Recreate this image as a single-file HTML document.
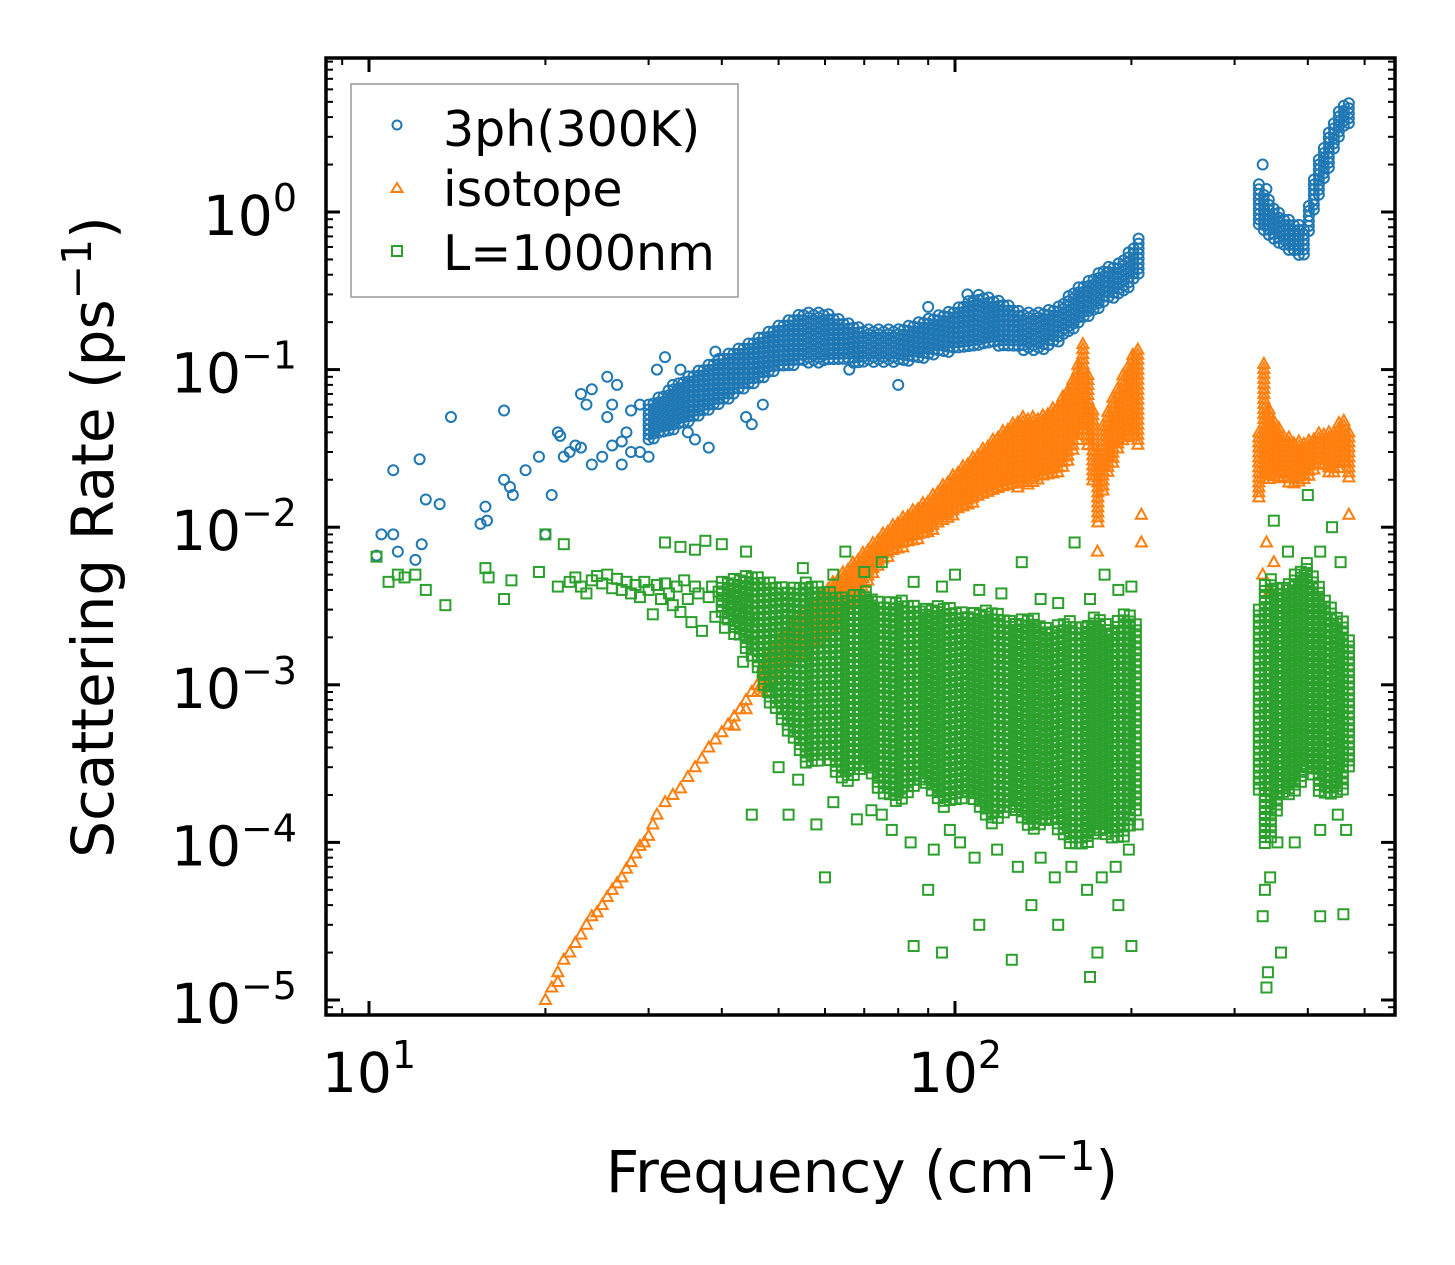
<!DOCTYPE html>
<html><head><meta charset="utf-8"><style>
html,body{margin:0;padding:0;background:#fff;}
svg{display:block;font-family:"DejaVu Sans","Liberation Sans",sans-serif;}
</style></head><body>
<svg id="chart" width="1455" height="1265" viewBox="0 0 1455 1265" xmlns="http://www.w3.org/2000/svg">
<defs><clipPath id="plotclip"><rect x="326" y="58" width="1069" height="957"/></clipPath></defs>
<rect width="1455" height="1265" fill="#fff"/>
<g id="marks" clip-path="url(#plotclip)"></g>
<g id="axes"></g>
<g>
<rect x="351" y="84" width="387" height="213" fill="#fff" fill-opacity="0.8" stroke="#999" stroke-width="1.5"/>
<circle cx="397" cy="125" r="4.5" fill="none" stroke="#1f77b4" stroke-width="2"/>
<text x="443" y="146" font-size="49">3ph(300K)</text>
<path d="M397,183 L402.5,192 L391.5,192 Z" fill="none" stroke="#ff7f0e" stroke-width="2"/>
<text x="443" y="206" font-size="49">isotope</text>
<rect x="392" y="246" width="10" height="10" fill="none" stroke="#2ca02c" stroke-width="2"/>
<text x="443" y="270" font-size="49">L=1000nm</text>
</g>
<text x="862" y="1192" font-size="58" text-anchor="middle">Frequency (cm<tspan dy="-22" font-size="41">−1</tspan><tspan dy="22">)</tspan></text>
<text transform="translate(113,537) rotate(-90)" font-size="58" text-anchor="middle">Scattering Rate (ps<tspan dy="-22" font-size="41">−1</tspan><tspan dy="22">)</tspan></text>
</svg>
<script>
// ---- data ----
const xTickValues=[10,100];
const xTickLabels=["1","2"];
const yTickValues=[1,0.1,0.01,0.001,0.0001,0.00001];
const yTickLabels=["0","−1","−2","−3","−4","−5"];
// dense band envelopes: [frequency, lower rate, upper rate]
const phBand=[[30,0.035,0.06],[35,0.045,0.09],[40,0.06,0.12],[45,0.08,0.15],[50,0.1,0.19],[55,0.11,0.23],[60,0.11,0.23],[65,0.11,0.2],[70,0.11,0.18],[80,0.11,0.18],[90,0.12,0.21],[100,0.13,0.24],[110,0.14,0.3],[120,0.14,0.27],[130,0.13,0.23],[140,0.13,0.23],[150,0.15,0.25],[160,0.18,0.32],[170,0.22,0.37],[180,0.26,0.44],[190,0.3,0.47],[200,0.34,0.58],[208,0.4,0.72]];
const phBandHigh=[[330,0.8,1.5],[340,0.7,1.25],[360,0.6,0.95],[380,0.55,0.85],[395,0.5,0.8],[400,0.7,1.0],[410,1.0,1.7],[420,1.3,2.3],[440,2.2,3.6],[460,3.5,4.9],[470,3.5,4.9]];
const isoBand=[[47,0.0009,0.0013],[50,0.0012,0.002],[60,0.002,0.004],[70,0.004,0.007],[75,0.006,0.009],[80,0.007,0.011],[90,0.009,0.015],[100,0.012,0.022],[110,0.015,0.03],[120,0.017,0.04],[130,0.018,0.05],[140,0.02,0.05],[150,0.022,0.06],[160,0.03,0.09],[165,0.04,0.15],[170,0.03,0.08],[175,0.01,0.03],[180,0.02,0.05],[190,0.03,0.08],[200,0.04,0.12],[208,0.03,0.15]];
const isoBandHigh=[[330,0.015,0.04],[335,0.02,0.15],[340,0.02,0.06],[360,0.02,0.04],[380,0.018,0.035],[400,0.02,0.035],[420,0.025,0.04],[440,0.02,0.04],[460,0.025,0.05],[470,0.02,0.04]];
const gBand=[[40,0.0028,0.0045],[45,0.0015,0.005],[48,0.0008,0.0045],[52,0.0005,0.004],[56,0.0003,0.0045],[60,0.00035,0.004],[65,0.00022,0.0035],[70,0.0003,0.004],[75,0.0002,0.0032],[80,0.00018,0.0035],[88,0.00025,0.003],[95,0.00016,0.0032],[105,0.0002,0.0028],[115,0.00013,0.003],[125,0.00017,0.0025],[135,0.00011,0.0027],[145,0.00014,0.0022],[155,0.0001,0.0026],[165,0.00009,0.0023],[175,0.00012,0.0028],[185,0.0001,0.0022],[195,0.00011,0.003],[203,0.00014,0.0025],[208,0.00025,0.0028]];
const gBandHigh=[[330,0.0002,0.003],[340,0.00008,0.005],[360,0.0002,0.004],[380,0.0002,0.005],[400,0.0003,0.006],[420,0.0002,0.004],[440,0.0002,0.003],[460,0.0002,0.0025],[470,0.0003,0.002]];
// individual scattered points: [frequency, rate]
const phPoints=[[10.3,0.0066],[10.5,0.009],[11,0.009],[11,0.023],[11.2,0.007],[12,0.0062],[12.2,0.027],[12.3,0.0078],[12.5,0.015],[13.2,0.014],[13.8,0.05],[15.5,0.0105],[15.8,0.0135],[15.9,0.011],[17,0.055],[17,0.02],[17.4,0.018],[17.6,0.016],[18.5,0.023],[19.5,0.028],[20,0.009],[20.5,0.016],[21,0.04],[21.2,0.038],[21.5,0.028],[22,0.03],[22.5,0.033],[23,0.032],[23,0.07],[23.5,0.06],[24,0.025],[24,0.075],[25,0.028],[25.5,0.09],[25.5,0.05],[26,0.06],[26,0.033],[26.5,0.08],[27,0.025],[27,0.035],[27.5,0.04],[28,0.03],[28,0.055],[29,0.06],[29,0.03],[30,0.028],[31,0.1],[32,0.12],[33,0.08],[34,0.1],[35,0.04],[36,0.036],[38,0.032],[39,0.13],[44,0.05],[45,0.045],[47,0.06],[66,0.1],[80,0.08],[90,0.25],[105,0.3],[335,2.0],[340,1.4]];
const isoPoints=[[20,0.00001],[20.5,0.000012],[21,0.000015],[21,0.000013],[21.5,0.000018],[22,0.00002],[22.5,0.000023],[23,0.000026],[23.5,0.00003],[24,0.000034],[24.5,0.000036],[25,0.00004],[25.5,0.000045],[26,0.00005],[26.5,0.000055],[27,0.00006],[27.5,0.000068],[28,0.000075],[28.5,0.000085],[29,0.000095],[29.5,0.0001],[30,0.00011],[30.5,0.00013],[31,0.00015],[32,0.00018],[33,0.0002],[34,0.00022],[35,0.00026],[36,0.0003],[37,0.00034],[38,0.0004],[39,0.00045],[40,0.0005],[41,0.00056],[42,0.00063],[43,0.0007],[44,0.0008],[45,0.0009],[46,0.001],[42,0.00055],[44,0.0007],[46,0.0009],[208,0.008],[208,0.012],[175,0.007],[335,0.005],[340,0.008],[345,0.004],[470,0.012],[350,0.006]];
const gPoints=[[10.3,0.0065],[10.8,0.0045],[11.2,0.005],[11.5,0.0048],[12,0.005],[12.5,0.004],[13.5,0.0032],[15.8,0.0055],[16,0.0048],[17,0.0035],[17.5,0.0046],[19.5,0.0052],[20,0.009],[21,0.0042],[21.5,0.0078],[22,0.0045],[22.5,0.0048],[23,0.0042],[23.5,0.0038],[24,0.0046],[24.5,0.0049],[25,0.0044],[25.5,0.005],[26,0.0041],[26.5,0.0047],[27,0.004],[27.5,0.0045],[28,0.0038],[28.5,0.0043],[29,0.0036],[29.5,0.0045],[30,0.004],[30.5,0.0028],[31,0.0043],[31.5,0.0035],[32,0.0044],[32.5,0.0038],[33,0.0032],[33.5,0.0042],[34,0.0029],[34.5,0.0046],[35,0.0035],[35.5,0.0025],[36,0.0042],[36.5,0.0038],[37,0.0022],[37.5,0.0082],[38,0.0036],[38.5,0.0042],[39,0.0027],[39.5,0.0039],[40,0.0034],[40.5,0.0023],[41,0.0041],[41.5,0.0032],[42,0.0021],[42.5,0.0036],[43,0.0028],[43.5,0.0014],[44,0.0033],[44.5,0.0026],[45,0.0018],[32,0.008],[34,0.0075],[36,0.0072],[40,0.0078],[44,0.007],[47,0.0012],[48,0.0009],[60,0.00006],[85,0.000022],[95,0.00002],[110,0.00003],[125,0.000018],[135,0.00004],[150,0.00003],[170,0.000014],[175,0.00002],[190,0.00004],[200,0.000022],[75,0.00015],[90,0.00005],[335,0.000034],[340,0.000012],[342,0.000015],[360,0.00002],[420,0.000034],[460,0.000035],[338,0.00005],[52,0.00015],[58,0.00013],[45,0.00015],[65,0.007],[75,0.006],[100,0.005],[130,0.006],[160,0.008],[180,0.005],[350,0.011],[400,0.016],[440,0.01],[50,0.0003],[54,0.00025],[62,0.00018],[68,0.00014],[72,0.00016],[78,0.00012],[84,0.0001],[92,0.00009],[98,0.00012],[102,0.0001],[108,0.00008],[118,0.00009],[128,0.00007],[140,0.00008],[148,0.00006],[158,0.00007],[168,0.00005],[178,0.00006],[188,0.00007],[198,0.00009],[205,0.00013],[55,0.0055],[62,0.005],[70,0.0052],[85,0.0045],[95,0.0042],[110,0.004],[120,0.0038],[140,0.0035],[150,0.0033],[170,0.0035],[190,0.004],[200,0.0042],[345,0.00006],[355,0.0001],[380,0.0001],[420,0.00012],[450,0.00015],[465,0.00012],[370,0.007],[420,0.007],[455,0.006]];

// ---- axes mapping ----
const L=326,R=1395,T=58,B=1015;
const xPx=v=>369+(Math.log10(v)-1)*586;
const yPx=v=>212-Math.log10(v)*157.6;
const NS="http://www.w3.org/2000/svg";
const marks=document.getElementById('marks');
const axes=document.getElementById('axes');
function mk(tag,attrs,parent){const e=document.createElementNS(NS,tag);for(const k in attrs)e.setAttribute(k,attrs[k]);parent.appendChild(e);return e;}

const shapes={
  circle:(g,x,y,c)=>mk('circle',{cx:x,cy:y,r:5,fill:'none',stroke:c,'stroke-width':2},g),
  tri:(g,x,y,c)=>mk('path',{d:`M${x},${y-6} L${x+5.5},${y+4} L${x-5.5},${y+4} Z`,fill:'none',stroke:c,'stroke-width':2},g),
  square:(g,x,y,c)=>mk('rect',{x:x-5,y:y-5,width:10,height:10,fill:'none',stroke:c,'stroke-width':2},g)
};
function drawPoints(pts,shape,color,name){
  pts.forEach(p=>{
    const e=shapes[shape](marks,xPx(p[0]),yPx(p[1]),color);
    
    
  });
}
// render a dense band as a tiled marker cloud between the envelope curves
function drawBand(band,shape,color,name,step){
  const x0=xPx(band[0][0]),x1=xPx(band[band.length-1][0]);
  let row=0;
  for(let x=x0;x<=x1;x+=step,row++){
    let i=0;while(i<band.length-2&&xPx(band[i+1][0])<x)i++;
    const a=band[i],b=band[i+1];
    const xa=xPx(a[0]),xb=xPx(b[0]);
    const t=xb>xa?Math.min(1,Math.max(0,(x-xa)/(xb-xa))):0;
    const yl=yPx(a[1])+(yPx(b[1])-yPx(a[1]))*t;
    const yu=yPx(a[2])+(yPx(b[2])-yPx(a[2]))*t;
    const off=(row%2)*step*0.5;
    for(let y=yu+off;y<=yl;y+=step){
      const e=shapes[shape](marks,x,y,color);
      
      
    }
  }
}
drawBand(phBand,'circle','#1f77b4','3ph-point',5);
drawBand(phBandHigh,'circle','#1f77b4','3ph-point',5);
drawPoints(phPoints,'circle','#1f77b4','3ph-point');
drawBand(isoBand,'tri','#ff7f0e','isotope-point',5);
drawBand(isoBandHigh,'tri','#ff7f0e','isotope-point',5);
drawPoints(isoPoints,'tri','#ff7f0e','isotope-point');
drawBand(gBand,'square','#2ca02c','boundary-point',6);
drawBand(gBandHigh,'square','#2ca02c','boundary-point',6);
drawPoints(gPoints,'square','#2ca02c','boundary-point');

// frame
const fr=mk('rect',{x:L,y:T,width:R-L,height:B-T,fill:'none',stroke:'#000','stroke-width':3.5},axes);


for(let d=0;d<3;d++){for(let m=1;m<10;m++){
  const px=xPx(Math.pow(10,d)*m);
  if(px<L||px>R)continue;
  const len=m===1?14:7;
  mk('line',{x1:px,y1:B,x2:px,y2:B-len,stroke:'#000','stroke-width':m===1?3:2},axes);
  mk('line',{x1:px,y1:T,x2:px,y2:T+len,stroke:'#000','stroke-width':m===1?3:2},axes);
}}
for(let d=-6;d<1;d++){for(let m=1;m<10;m++){
  const py=yPx(Math.pow(10,d)*m);
  if(py<T||py>B)continue;
  const len=m===1?14:7;
  mk('line',{x1:L,y1:py,x2:L+len,y2:py,stroke:'#000','stroke-width':m===1?3:2},axes);
  mk('line',{x1:R,y1:py,x2:R-len,y2:py,stroke:'#000','stroke-width':m===1?3:2},axes);
}}
xTickValues.forEach((v,i)=>{
  const t=mk('text',{x:xPx(v),y:1092,'font-size':55,'text-anchor':'middle'},axes);
  t.innerHTML=`10<tspan dy="-24" font-size="38">${xTickLabels[i]}</tspan>`;
  
  
});
yTickValues.forEach((v,i)=>{
  const t=mk('text',{x:297,y:yPx(v)+23,'font-size':55,'text-anchor':'end'},axes);
  t.innerHTML=`10<tspan dy="-24" font-size="38">${yTickLabels[i]}</tspan>`;
  
  
});
</script>
</body></html>
